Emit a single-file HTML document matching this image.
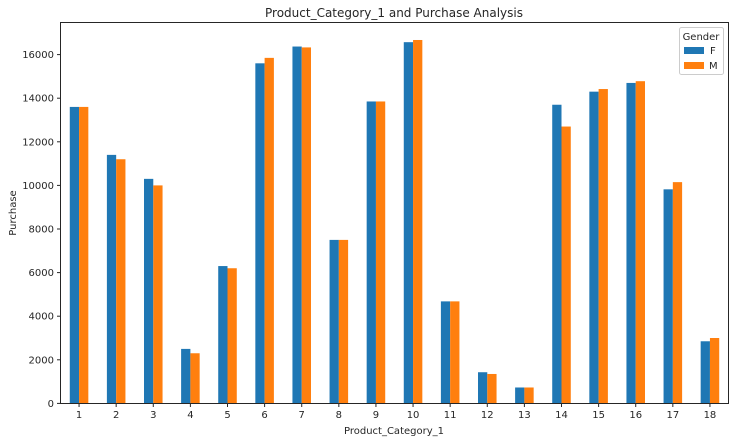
<!DOCTYPE html>
<html><head><meta charset="utf-8"><style>
body{margin:0;background:#fff;}
svg text{font-family:"DejaVu Sans","Liberation Sans",sans-serif;fill:#262626;}
</style></head><body>
<svg id="chart" width="736" height="442" xmlns="http://www.w3.org/2000/svg">
<text x="394" y="17" font-size="12" text-anchor="middle">Product_Category_1 and Purchase Analysis</text>
<g id="bars"></g>
<g id="yticks"></g>
<g id="xticks"></g>
<rect x="60.5" y="22.5" width="668" height="381" fill="none" stroke="#262626" stroke-width="1"/>
<text transform="translate(16,213) rotate(-90)" font-size="10" text-anchor="middle">Purchase</text>
<text x="394" y="434" font-size="10" text-anchor="middle">Product_Category_1</text>
<g>
<rect x="679.5" y="27.5" width="44" height="47" rx="2" fill="#fff" stroke="#ccc"/>
<text x="701" y="40" font-size="10" text-anchor="middle">Gender</text>
<rect x="684" y="47" width="20" height="7" fill="#1f77b4"/>
<text x="710" y="54" font-size="10">F</text>
<rect x="684" y="62" width="20" height="7" fill="#ff7f0e"/>
<text x="709" y="69" font-size="10">M</text>
</g>
</svg>
<script>
const categories=["1","2","3","4","5","6","7","8","9","10","11","12","13","14","15","16","17","18"];
const femaleValues=[13600,11400,10300,2500,6300,15600,16370,7500,13850,16570,4680,1430,730,13700,14300,14700,9820,2850];
const maleValues=[13600,11200,10000,2300,6200,15850,16330,7500,13850,16670,4680,1350,730,12700,14420,14780,10150,3000];
const yTicks=[0,2000,4000,6000,8000,10000,12000,14000,16000];
const NS="http://www.w3.org/2000/svg";
const L=60.5,R=728.5,Y0=403.4,PX=43.6/2000;
const step=(R-L)/categories.length;
const xC=i=>L+step*(i+0.5);
const y=v=>Y0-v*PX;
const bw=step*0.25;
const bars=document.getElementById('bars'),yt=document.getElementById('yticks'),xt=document.getElementById('xticks');
function mk(tag,attrs){const e=document.createElementNS(NS,tag);for(const k in attrs)e.setAttribute(k,attrs[k]);return e;}
categories.forEach((c,i)=>{
 [[femaleValues,'#1f77b4',-1,'f'],[maleValues,'#ff7f0e',0,'m']].forEach(([arr,col,off,s])=>{
  const r=mk('rect',{x:xC(i)+off*bw,y:y(arr[i]),width:bw,height:Y0-y(arr[i]),fill:col});
  
  
  bars.appendChild(r);
 });
 const t=mk('line',{x1:xC(i),x2:xC(i),y1:403.5,y2:407,stroke:'#262626'});
 
 
 xt.appendChild(t);
 const lb=mk('text',{x:xC(i),y:418,'font-size':10,'text-anchor':'middle'});
 lb.textContent=c;
 
 
 xt.appendChild(lb);
});
yTicks.forEach(v=>{
 const t=mk('line',{x1:57,x2:60.5,y1:y(v),y2:y(v),stroke:'#262626'});
 
 
 yt.appendChild(t);
 const lb=mk('text',{x:54,y:y(v)+3.5,'font-size':10,'text-anchor':'end'});
 lb.textContent=v;
 
 
 yt.appendChild(lb);
});
</script>
</body></html>
